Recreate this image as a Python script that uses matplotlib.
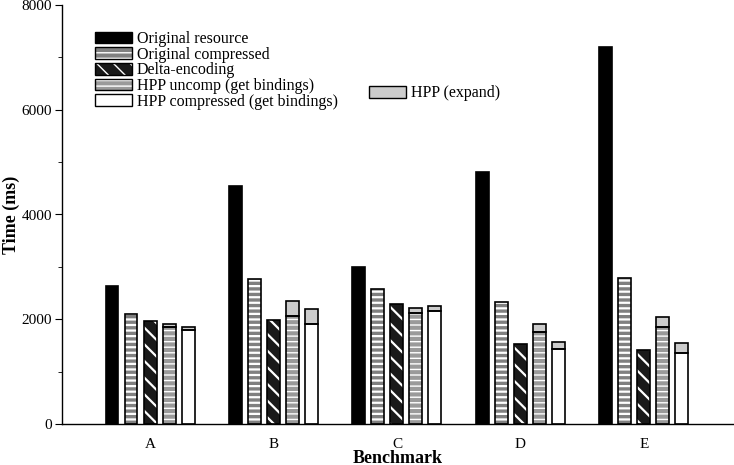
import matplotlib
matplotlib.use("Agg")
import matplotlib.pyplot as plt
import numpy as np
from matplotlib.patches import Patch
from matplotlib.legend_handler import HandlerTuple

benchmarks = ["A", "B", "C", "D", "E"]
orig_resource = [2635, 4544, 2998, 4810, 7198]
orig_compressed = [2100, 2762, 2571, 2323, 2782]
delta_encoding = [1960, 1980, 2291, 1527, 1407]
hpp_uncomp = [1858, 2056, 2113, 1750, 1846]
hpp_uncomp_expand = [52, 286, 95, 153, 191]
hpp_comp = [1790, 1903, 2152, 1426, 1350]
hpp_comp_expand = [62, 287, 101, 134, 190]

plt.rcParams['font.family'] = ['Liberation Serif', 'DejaVu Serif']

fig = plt.figure(figsize=(7.34, 4.65), dpi=100)
ax = fig.add_axes([62/734, 1-424/465, 1-62/734, 419/465])

x = np.arange(len(benchmarks))
w = 0.105
step = 0.154
offs = [-2*step, -step, 0, step, 2*step]

def hbar(pos, vals, bottom=None, face='white', hatch=None, hcolor='white', hlw=1.0):
    plt.rcParams['hatch.linewidth'] = hlw
    ax.bar(pos, vals, w, bottom=bottom, color=face, edgecolor=hcolor if hatch else face,
           hatch=hatch, linewidth=0, zorder=2)
    ax.bar(pos, vals, w, bottom=bottom, fill=False, edgecolor='black', linewidth=1.2, zorder=3)

# Original resource
ax.bar(x + offs[0], orig_resource, w, color='black', edgecolor='black', linewidth=1.2, zorder=2)
# Original compressed
hbar(x + offs[1], orig_compressed, face='#808080', hatch='---', hcolor='white', hlw=1.6)
# Delta-encoding
hbar(x + offs[2], delta_encoding, face='#1a1a1a', hatch='\\\\', hcolor='white', hlw=1.6)
# HPP uncomp
hbar(x + offs[3], hpp_uncomp, face='#9a9a9a', hatch='---', hcolor='white', hlw=1.0)
hbar(x + offs[3], hpp_uncomp_expand, bottom=hpp_uncomp, face='#cccccc')
# HPP compressed
hbar(x + offs[4], hpp_comp, face='white')
hbar(x + offs[4], hpp_comp_expand, bottom=hpp_comp, face='#cccccc')

ax.set_xlim(-0.713, 4.73)
ax.set_ylim(0, 8000)
ax.set_xticks(x)
ax.set_xticklabels(benchmarks, fontsize=11)
ax.tick_params(axis='x', length=0, pad=10)
ax.set_yticks([0, 2000, 4000, 6000, 8000])
ax.set_yticks([1000, 3000, 5000, 7000], minor=True)
ax.tick_params(axis='y', which='major', length=5, labelsize=11, direction='out', pad=2)
ax.tick_params(axis='y', which='minor', length=3, direction='out')
for s in ['top', 'right']:
    ax.spines[s].set_visible(False)
ax.spines['left'].set_linewidth(1.0)
ax.spines['bottom'].set_linewidth(1.0)

ax.set_ylabel("Time (ms)", fontsize=13, fontweight='bold', labelpad=1)
ax.set_xlabel("Benchmark", fontsize=13, fontweight='bold', labelpad=-1)

def lpatch(face, hatch=None, hlw=1.0):
    plt.rcParams['hatch.linewidth'] = hlw
    inner = Patch(facecolor=face, edgecolor='white' if hatch else face, hatch=hatch, linewidth=0)
    outer = Patch(fill=False, edgecolor='black', linewidth=1.0)
    return (inner, outer)

labels1 = ['Original resource', 'Original compressed', 'Delta-encoding',
           'HPP uncomp (get bindings)', 'HPP compressed (get bindings)']
handles = [
    lpatch('black'),
    lpatch('#808080', '---', 1.6),
    lpatch('#1a1a1a', '\\\\', 1.6),
    lpatch('#9a9a9a', '---', 1.0),
    lpatch('white'),
]
hmap = {tuple: HandlerTuple(ndivide=1)}
legfont = {'family': ['Liberation Serif', 'DejaVu Serif'], 'size': 11.5}
leg1 = ax.legend(handles=handles, labels=labels1, loc='upper left', bbox_to_anchor=(0.049, 0.938),
                 frameon=False, prop=legfont, handlelength=2.3, handleheight=0.75,
                 labelspacing=-0.02, handletextpad=0.31, borderaxespad=0, borderpad=0,
                 handler_map=hmap)
ax.add_artist(leg1)
ax.legend(handles=[lpatch('#cccccc')], labels=['HPP (expand)'], loc='upper left',
          bbox_to_anchor=(0.457, 0.808), frameon=False, prop=legfont,
          handlelength=2.3, handleheight=0.75, handletextpad=0.31, borderaxespad=0, borderpad=0,
          handler_map=hmap)

fig.savefig("out.png", dpi=100)
